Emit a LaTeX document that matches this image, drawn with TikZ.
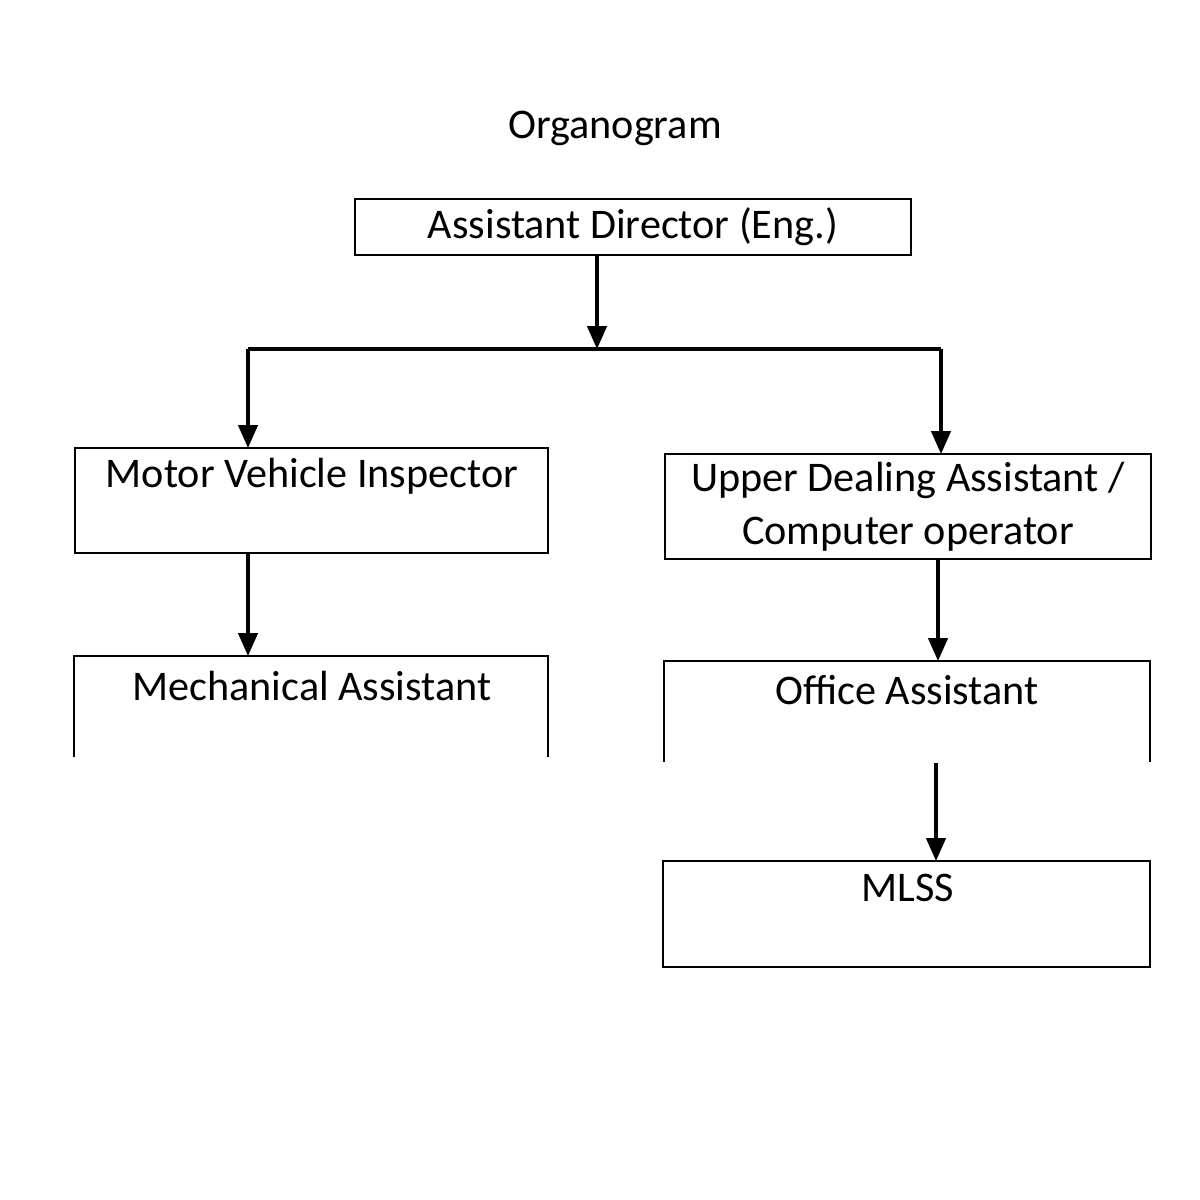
\documentclass[tikz,border=0pt]{standalone}
\usepackage{fontspec}
\setmainfont{Carlito}
\usetikzlibrary{arrows.meta}
\begin{document}
\begin{tikzpicture}[x=0.01cm, y=-0.01cm,
    post/.style={draw, line width=0.5pt, inner sep=0pt, outer sep=0pt},
    openpost/.style={inner sep=0pt, outer sep=0pt},
    lbl/.style={font=\fontsize{12}{15}\selectfont, align=center, inner sep=0pt},
    arr/.style={-{Triangle[width=5.5pt, length=6.5pt]}, line width=0.9pt}]
  \useasboundingbox (0,0) rectangle (1200,1200);

  \node[lbl] (title) at (615,128) {Organogram};

  \node[post, lbl, minimum width=5.56cm, minimum height=0.56cm] (AD) at (633,227) {Assistant Director (Eng.)};

  \node[post, minimum width=4.73cm, minimum height=1.05cm] (MVI) at (311.5,500.5) {};
  \node[lbl] (MVItext) at (312,476) {Motor Vehicle Inspector};
  \node[post, lbl, minimum width=4.86cm, minimum height=1.05cm] (UDA) at (908,506.5) {Upper Dealing Assistant /\\Computer operator};

  % boxes with no bottom line
  \node[openpost, minimum width=4.74cm, minimum height=1.01cm] (MA) at (311,706.5) {};
  \draw[line width=0.5pt] (MA.south west) -- (MA.north west) -- (MA.north east) -- (MA.south east);
  \node[lbl] (MAtext) at (312,686) {Mechanical Assistant};
  \node[openpost, minimum width=4.86cm, minimum height=1.01cm] (OA) at (907,711.5) {};
  \draw[line width=0.5pt] (OA.south west) -- (OA.north west) -- (OA.north east) -- (OA.south east);
  \node[lbl] (OAtext) at (907,690) {Office Assistant};

  \node[post, minimum width=4.87cm, minimum height=1.06cm] (MLSS) at (906.5,914) {};
  \node[lbl] (MLSStext) at (908,888) {MLSS};

  % connectors
  \coordinate (split) at (597,349);
  \coordinate (left) at (248,349);
  \coordinate (right) at (941,349);
  \draw[arr] (AD.south -| split) -- (split);
  \draw[line width=0.9pt] (left) -- (right);
  \draw[arr] (left) -- (left |- MVI.north);
  \draw[arr] (right) -- (right |- UDA.north);
  \draw[arr] (MVI.south -| left) -- (MA.north -| left);
  \draw[arr] ([xshift=-0.03cm]UDA.south -| right) -- ([xshift=-0.03cm]OA.north -| right);
  \draw[arr] ([xshift=-0.05cm,yshift=-0.01cm]OA.south -| right) -- ([xshift=-0.05cm]MLSS.north -| right);
\end{tikzpicture}
\end{document}
